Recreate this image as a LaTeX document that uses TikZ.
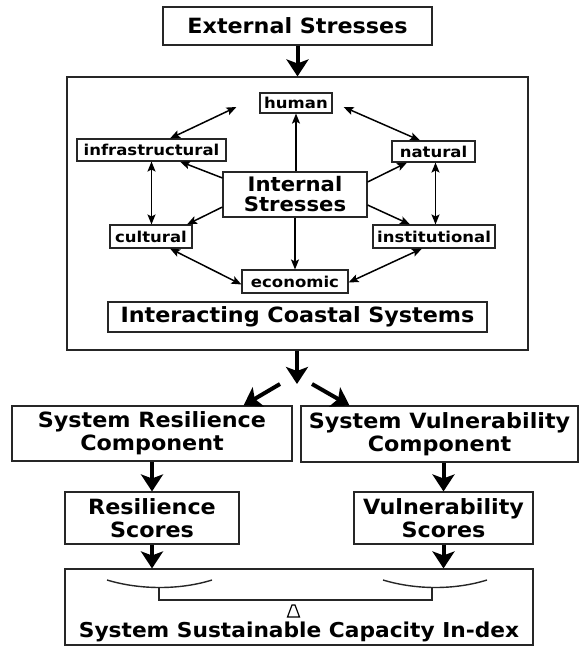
\documentclass[tikz,border=0pt]{standalone}
\usepackage{fontspec}
\setmainfont{DejaVu Sans}
\newfontfamily\bigf{DejaVu Sans}[FakeStretch=1.06]
\newfontfamily\labf{DejaVu Sans}[FakeStretch=1.1]
\usetikzlibrary{arrows.meta,calc}
\tikzset{
  box/.style={draw=black!85, line width=1.1pt, inner sep=0pt, align=center, fill=white},
  lab/.style={box, font=\labf\fontsize{15}{17}\selectfont\bfseries},
  hd/.style={box, font=\bigf\fontsize{21}{23}\selectfont\bfseries},
  bigarrow/.style={line width=4pt, -{Stealth[length=17pt,width=22pt,inset=4pt]}},
  inarrow/.style={line width=1.5pt, -{Stealth[length=10pt,width=8pt,inset=2pt]}},
  dblarrow/.style={line width=1.5pt, {Stealth[length=10pt,width=8pt,inset=2pt]}-{Stealth[length=10pt,width=8pt,inset=2pt]}},
  beam/.style={line width=1.4pt, black!85}
}
\begin{document}
\begin{tikzpicture}[x=1pt,y=-1pt]
\useasboundingbox (0,0) rectangle (580,650);
% outer box of interacting systems
\node[box, fill=none, minimum width=461pt, minimum height=273pt] (big) at (297.5,213.5) {};
\node[hd, minimum width=269pt, minimum height=38pt] (ext) at (297.5,26) {External Stresses};
% inner graph
\node[lab, minimum width=72pt, minimum height=20pt] (human) at (296,103) {human};
\node[box, font=\bigf\fontsize{20}{20}\selectfont\bfseries, minimum width=144pt, minimum height=45pt] (internal) at (295,194.5) {Internal\\Stresses};
\node[lab, minimum width=149pt, minimum height=22pt] (infra) at (151.5,150) {infrastructural};
\node[lab, minimum width=83pt, minimum height=21pt] (natural) at (433.5,151.5) {natural};
\node[lab, minimum width=82pt, minimum height=23pt] (cultural) at (151,236.5) {cultural};
\node[lab, minimum width=122pt, minimum height=23pt] (institutional) at (434,236.5) {institutional};
\node[lab, minimum width=106pt, minimum height=23pt] (economic) at (295,281.5) {economic};
\node[hd, minimum width=379pt, minimum height=30pt] (interacting) at (297.5,317) {Interacting Coastal Systems};
% lower boxes
\node[hd, minimum width=280pt, minimum height=55pt] (rescomp) at (152,433.5) {System Resilience\\Component};
\node[hd, minimum width=277pt, minimum height=56pt] (vulcomp) at (439.5,434) {System Vulnerability\\Component};
\node[hd, minimum width=174pt, minimum height=52pt] (resscore) at (152,518) {Resilience\\Scores};
\node[hd, minimum width=179pt, minimum height=52pt] (vulscore) at (443.5,518) {Vulnerability\\Scores};
\node[box, minimum width=468pt, minimum height=76pt] (index) at (299,607) {};
\node[font=\bigf\fontsize{20.5}{22}\selectfont\bfseries, inner sep=0pt] (indextext) at (299,632) {System Sustainable Capacity In-dex};
% big arrows
\draw[bigarrow] (ext.south) -- (big.north);
\coordinate (split) at (297,384);
\draw[bigarrow] (big.south -| split) -- (split);
\coordinate (sL) at (280,384);
\coordinate (sR) at (312,384);
\draw[bigarrow] (sL) -- ([xshift=-49pt]rescomp.north east);
\draw[bigarrow] (sR) -- ([xshift=49pt]vulcomp.north west);
\draw[bigarrow] (rescomp.south) -- (resscore.north);
\draw[bigarrow] (vulscore.north |- vulcomp.south) -- (vulscore.north);
\draw[bigarrow] (resscore.south) -- (resscore.south |- index.north);
\draw[bigarrow] (vulscore.south) -- (vulscore.south |- index.north);
% inner arrows
\draw[dblarrow] ([xshift=-23pt,yshift=-4pt]human.west) -- ([xshift=18.5pt]infra.north);
\draw[dblarrow] ([xshift=11pt,yshift=-4pt]human.east) -- ([xshift=-13.5pt]natural.north);
\draw[inarrow] (internal.north -| human.south) -- (human.south);
\draw[inarrow] ([yshift=16.5pt]internal.west) -- ([xshift=28.5pt]infra.south);
\draw[inarrow] ([yshift=12.5pt]internal.east) -- ([xshift=-26.5pt]natural.south);
\draw[inarrow] ([yshift=-12.5pt]internal.west) -- ([xshift=36pt]cultural.north);
\draw[inarrow] ([yshift=-10.5pt]internal.east) -- ([xshift=-24pt]institutional.north);
\draw[inarrow] (internal.south) -- (economic.north);
\draw[dblarrow] (infra.south) -- (infra.south |- cultural.north);
\draw[dblarrow] ([xshift=2pt]natural.south) -- ([xshift=2pt]natural.south |- institutional.north);
\draw[dblarrow] ([xshift=19pt]cultural.south) -- ([yshift=-3pt]economic.west);
\draw[dblarrow] ([xshift=-12pt]institutional.south) -- ([yshift=-1pt]economic.east);
% balance
\draw[beam] (107,580) .. controls (140,590) and (180,590) .. (212,580);
\draw[beam] (383,580) .. controls (416,590) and (455,590) .. (487,580);
\draw[beam] (159,587) -- (159,600) -- (432,600) -- (432,587);
\draw[line width=1.2pt, fill=white] (292,605) -- (295,605) -- (299.5,617) -- (287.5,617) -- cycle;
\end{tikzpicture}
\end{document}
